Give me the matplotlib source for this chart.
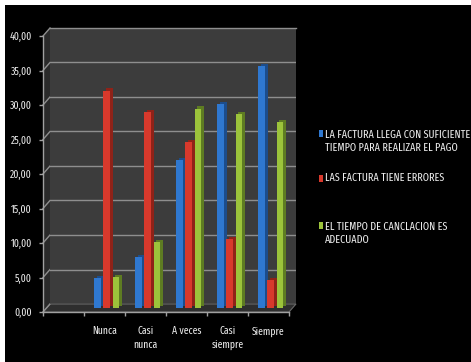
import numpy as np
import matplotlib
matplotlib.use("Agg")
import matplotlib.pyplot as plt
import matplotlib.transforms as mtransforms
from matplotlib.patches import Rectangle, Polygon
from matplotlib.lines import Line2D

# ---------------- data ----------------
categories = ["", "Nunca", "Casi\nnunca", "A veces", "Casi\nsiempre", "Siempre"]
series_names = [
    "LA FACTURA LLEGA CON SUFICIENTE\nTIEMPO PARA REALIZAR EL PAGO",
    "LAS FACTURA TIENE ERRORES",
    "EL TIEMPO DE CANCLACION ES\nADECUADO",
]
factura_llega = [np.nan, 4.3, 7.4, 21.4, 29.6, 35.1]
factura_errores = [np.nan, 31.5, 28.4, 24.1, 10.0, 4.0]
tiempo_cancelacion = [np.nan, 4.5, 9.5, 28.9, 28.1, 26.9]
y_ticks = [0, 5, 10, 15, 20, 25, 30, 35, 40]
y_tick_labels = ["0,00", "5,00", "10,00", "15,00", "20,00", "25,00", "30,00", "35,00", "40,00"]

series_values = [factura_llega, factura_errores, tiempo_cancelacion]
front_colors = ["#2f78d0", "#d8392c", "#9cc33b"]
side_colors = ["#1c4d8c", "#8f2218", "#5e7c22"]

FONT = ["Fira Sans Extra Condensed", "Pathway Gothic One", "Roboto Condensed",
        "Barlow Condensed", "DejaVu Sans Condensed", "DejaVu Sans"]
TXT = "#ececec"

W, H = 471, 362
fig = plt.figure(figsize=(W / 100, H / 100), dpi=100, facecolor="white")
renderer = fig.canvas.get_renderer()

def rect(l, t, r, b):
    return [l / W, 1 - b / H, (r - l) / W, (b - t) / H]

def fit(s, target, lo, hi):
    probe = fig.text(0, 0, s, family=FONT, fontsize=10)
    pw = probe.get_window_extent(renderer).width
    probe.remove()
    return float(np.clip(10 * target / pw, lo, hi))

LFS = fit("LA FACTURA LLEGA CON SUFICIENTE", 143, 6, 10)
TFS = fit("40,00", 22, 6, 9.5)

# black panel
fig.patches.append(Rectangle((5 / W, 0), 1, 1 - 5 / H, transform=fig.transFigure,
                             facecolor="black", edgecolor="none", zorder=-10))

axb = fig.add_axes(rect(50, 28, 296, 304), zorder=0)      # back wall
axm = fig.add_axes(rect(46.5, 32, 292.5, 308), zorder=1)  # bars
axf = fig.add_axes(rect(43, 36, 289, 312), zorder=2)      # front axis

n = len(categories)
for ax in (axb, axm, axf):
    ax.set_xlim(-0.5, n - 0.5)
    ax.set_ylim(0, 40)

axb.set_facecolor("#3c3c3c")
axb.set_yticks(y_ticks)
axb.set_xticks([])
axb.tick_params(left=False, labelleft=False)
axb.grid(axis="y", color="#8e8e8e", linewidth=1.0)
for s in axb.spines.values():
    s.set_visible(False)

# left side wall and floor (pseudo 3D)
ident = mtransforms.IdentityTransform()
fl0 = axf.transData.transform((-0.5, 0))
bl0 = axb.transData.transform((-0.5, 0))
fl40 = axf.transData.transform((-0.5, 40))
bl40 = axb.transData.transform((-0.5, 40))
br0 = axb.transData.transform((n - 0.5, 0))
fr0 = axf.transData.transform((n - 0.5, 0))
fig.patches.append(Polygon([fl0, bl0, bl40, fl40], closed=True, transform=ident,
                           facecolor="#2a2a2a", edgecolor="none", zorder=-5))
fig.patches.append(Polygon([fl0, bl0, br0, fr0], closed=True, transform=ident,
                           facecolor="#2e2e2e", edgecolor="#6a6a6a", linewidth=0.8, zorder=-5))
for g in y_ticks:
    p0 = axf.transData.transform((-0.5, g))
    p1 = axb.transData.transform((-0.5, g))
    fig.lines.append(Line2D([p0[0], p1[0]], [p0[1], p1[1]], transform=ident,
                            color="#8e8e8e", linewidth=1.0, zorder=-4))
fig.lines.append(Line2D([bl40[0], axb.transData.transform((n - 0.5, 40))[0]],
                        [bl40[1], bl40[1]], transform=ident, color="#8e8e8e",
                        linewidth=1.0, zorder=-4))

# bars
axm.set_facecolor("none")
axm.axis("off")
x = np.arange(n)
offsets = [-0.22, 0.0, 0.22]
bw = 0.17
shift = mtransforms.ScaledTranslation(2.2 / 100, 2.2 / 100, fig.dpi_scale_trans)
for vals, off, fc, sc in zip(series_values, offsets, front_colors, side_colors):
    xs = x + off - 0.025
    axm.bar(xs, vals, width=bw, color=sc, linewidth=0,
            transform=axm.transData + shift)
    axm.bar(xs, vals, width=bw, color=fc, linewidth=0)

# front axes
axf.set_facecolor("none")
for side in ("top", "right"):
    axf.spines[side].set_visible(False)
for side in ("left", "bottom"):
    axf.spines[side].set_color("#a0a0a0")
    axf.spines[side].set_linewidth(1.0)
axf.set_yticks(y_ticks)
axf.set_yticklabels(y_tick_labels, color=TXT, family=FONT, fontsize=TFS)
axf.tick_params(axis="y", length=3, width=1, color="#a0a0a0", pad=5)
axf.set_xticks(x)
axf.set_xticklabels(categories, color=TXT, linespacing=1.35, family=FONT, fontsize=TFS)
axf.set_xticks(np.arange(n + 1) - 0.5, minor=True)
axf.tick_params(axis="x", which="major", length=0, pad=10)
axf.tick_params(axis="x", which="minor", length=3, width=1, color="#a0a0a0")

# legend (manual)
leg_centers = [141.5, 178, 233.5]
first_line = [133, 178, 225]
for name, fc, yc, y1 in zip(series_names, front_colors, leg_centers, first_line):
    fig.text(325 / W, 1 - yc / H, name, color=TXT, family=FONT, fontsize=LFS,
             va="center", ha="left", linespacing=1.35)
    fig.patches.append(Rectangle((318.5 / W, 1 - (y1 + 3.5) / H), 4.5 / W, 7 / H,
                                 transform=fig.transFigure, facecolor=fc,
                                 edgecolor="none"))

fig.savefig("out.png", dpi=100, facecolor="white")
